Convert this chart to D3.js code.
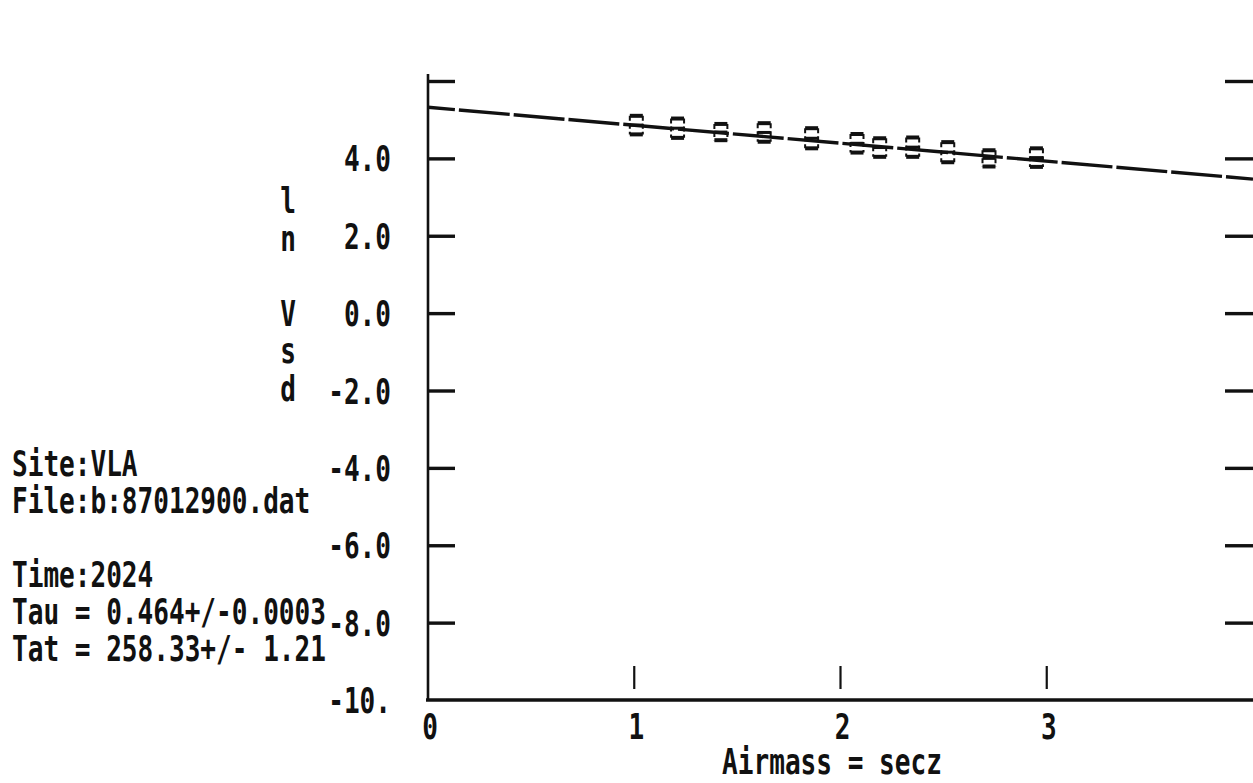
<!DOCTYPE html>
<html>
<head>
<meta charset="utf-8">
<script src="https://cdn.jsdelivr.net/npm/d3@7"></script>
<style>
  html, body { margin: 0; padding: 0; background: #ffffff; }
  svg { display: block; }
  text { font-family: "DejaVu Sans Mono", "Liberation Mono", monospace; font-weight: bold; fill: #111; }
</style>
</head>
<body>
<svg id="chart" width="1253" height="783"></svg>
<script>
// Optical depth fit: ln(Vsd) against airmass
const airmass  = [1.01, 1.21, 1.42, 1.63, 1.86, 2.08, 2.19, 2.35, 2.52, 2.72, 2.95];
const lnVsd    = [4.86, 4.78, 4.68, 4.67, 4.52, 4.39, 4.28, 4.29, 4.16, 4.00, 4.02];
const lnVsdErr = [0.24, 0.25, 0.21, 0.24, 0.26, 0.24, 0.24, 0.25, 0.26, 0.21, 0.24];

// Fitted line: ln Vsd = intercept - tau * airmass
const tau = 0.464;
const fitIntercept = 5.32;
const fitRange = [0, 4];

const yTickValues = [6, 4, 2, 0, -2, -4, -6, -8];
const yTickLabels = [
  {v: 4, t: "4.0"}, {v: 2, t: "2.0"}, {v: 0, t: "0.0"}, {v: -2, t: "-2.0"},
  {v: -4, t: "-4.0"}, {v: -6, t: "-6.0"}, {v: -8, t: "-8.0"}, {v: -10, t: "-10."}
];
const xTickValues = [1, 2, 3];
const xTickLabels = [{v: 0, t: "0"}, {v: 1, t: "1"}, {v: 2, t: "2"}, {v: 3, t: "3"}];
const yTitleChars = ["l", "n", " ", "V", "s", "d"];
const xTitle = "Airmass = secz";
const infoLines = [
  "Site:VLA",
  "File:b:87012900.dat",
  "",
  "Time:2024",
  "Tau = 0.464+/-0.0003",
  "Tat = 258.33+/- 1.21"
];

const svg = d3.select("#chart");
const ink = "#111";
const fontSize = 36;
const glyphAdvance = 0.602 * fontSize;   // DejaVu Sans Mono advance
const charW = 15.7;                      // printer character pitch
const squeeze = charW / glyphAdvance;

const x = d3.scaleLinear().domain([0, 4]).range([428, 1253]);
const y = d3.scaleLinear().domain([-10, 6]).range([700, 81]);

// Condensed printer text: a monospace face squeezed horizontally
function printText(g, str, px, py, anchor) {
  const len = str.length * charW;
  let sx = px;
  if (anchor === "end") sx = px - len;
  if (anchor === "middle") sx = px - len / 2;
  g.append("g")
    .attr("transform", `translate(${sx},${py}) scale(${squeeze},1)`)
    .append("text")
    .attr("x", 0).attr("y", 0)
    .attr("font-size", fontSize)
    .style("white-space", "pre")
    .text(str);
}

// Left axis with inward ticks
const leftAxis = d3.axisLeft(y).tickValues(yTickValues).tickSize(-27).tickFormat("");
const gl = svg.append("g").attr("transform", `translate(${x(0)},0)`).call(leftAxis);
gl.select(".domain").remove();
gl.selectAll(".tick line").attr("stroke", ink).attr("stroke-width", 3.4);
svg.append("line")
  .attr("x1", x(0)).attr("x2", x(0))
  .attr("y1", y(6) - 7).attr("y2", y(-10))
  .attr("stroke", ink).attr("stroke-width", 2.6);

// Right axis ticks, pointing inward
const rightAxis = d3.axisRight(y).tickValues(yTickValues).tickSize(-28).tickFormat("");
const gr = svg.append("g").attr("transform", `translate(${x(4)},0)`).call(rightAxis);
gr.select(".domain").remove();
gr.selectAll(".tick line").attr("stroke", ink).attr("stroke-width", 3.4);

// Bottom axis with short upward ticks
const bottomAxis = d3.axisBottom(x).tickValues(xTickValues).tickSize(0).tickFormat("");
const gb = svg.append("g").attr("transform", `translate(0,${y(-10)})`).call(bottomAxis);
gb.select(".domain").remove();
svg.append("line")
  .attr("x1", x(0) - 2).attr("x2", x(4))
  .attr("y1", y(-10)).attr("y2", y(-10))
  .attr("stroke", ink).attr("stroke-width", 3.6);
svg.append("g").selectAll("line").data(xTickValues).join("line")
  .attr("x1", d => x(d)).attr("x2", d => x(d))
  .attr("y1", y(-10) - 34).attr("y2", y(-10) - 11)
  .attr("stroke", ink).attr("stroke-width", 2.2);

// Tick labels
const labels = svg.append("g");
yTickLabels.forEach(d => printText(labels, d.t, 391, y(d.v) + 13, "end"));
xTickLabels.forEach(d => printText(labels, d.t, x(d.v) + 2, y(-10) + 39, "middle"));

// Axis titles
printText(labels, xTitle, 832, 774, "middle");
yTitleChars.forEach((c, i) => {
  if (c.trim()) printText(labels, c, 288, 213 + i * 37.5, "middle");
});

// Fit annotation block
infoLines.forEach((s, i) => {
  if (s) printText(labels, s, 12, 476 + i * 37, "start");
});

// Fitted line, drawn in long printer dashes
const fitLine = d3.line().x(d => x(d)).y(d => y(fitIntercept - tau * d));
svg.append("path")
  .datum(fitRange)
  .attr("d", fitLine)
  .attr("fill", "none")
  .attr("stroke", ink)
  .attr("stroke-width", 3.4)
  .attr("stroke-dasharray", "51,4")
  .attr("stroke-dashoffset", 24);

// Measurements: boxes spanning the error range
const pts = airmass.map((a, i) => ({a, v: lnVsd[i], e: lnVsdErr[i]}));
const boxW = 13;
const gp = svg.append("g");
const pg = gp.selectAll("g").data(pts).join("g");
[1, -1].forEach(sign => {
  pg.append("line")
    .attr("x1", d => x(d.a) - boxW / 2).attr("x2", d => x(d.a) + boxW / 2)
    .attr("y1", d => y(d.v + sign * d.e)).attr("y2", d => y(d.v + sign * d.e))
    .attr("stroke", ink).attr("stroke-width", 4);
});
[-1, 1].forEach(side => {
  pg.append("line")
    .attr("x1", d => x(d.a) + side * boxW / 2).attr("x2", d => x(d.a) + side * boxW / 2)
    .attr("y1", d => y(d.v + d.e)).attr("y2", d => y(d.v - d.e))
    .attr("stroke", ink).attr("stroke-width", 2)
    .attr("stroke-dasharray", "5,3");
});
pg.append("line")
  .attr("x1", d => x(d.a) - boxW / 2).attr("x2", d => x(d.a) + boxW / 2)
  .attr("y1", d => y(d.v)).attr("y2", d => y(d.v))
  .attr("stroke", ink).attr("stroke-width", 3);
</script>
</body>
</html>
